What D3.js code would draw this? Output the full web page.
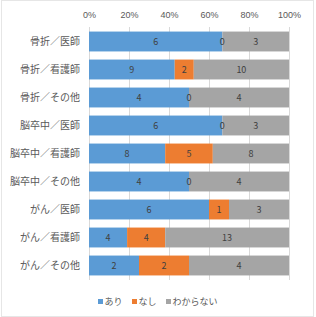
<!DOCTYPE html>
<html><head><meta charset="utf-8">
<script src="https://cdn.jsdelivr.net/npm/d3@7/dist/d3.min.js"></script>
<style>body{margin:0;background:#fff;}svg{display:block;font-family:"Noto Sans CJK JP","Noto Sans",sans-serif;}</style>
</head><body>
<script>
const categories = ["骨折／医師","骨折／看護師","骨折／その他","脳卒中／医師","脳卒中／看護師","脳卒中／その他","がん／医師","がん／看護師","がん／その他"];
const seriesNames = ["あり","なし","わからない"];
const ari = [6,9,4,6,8,4,6,4,2];
const nashi = [0,2,0,0,5,0,1,4,2];
const wakaranai = [3,10,4,3,8,4,3,13,4];
const tickValues = [0,0.2,0.4,0.6,0.8,1.0];
const colors = ["#5B9BD5","#ED7D31","#A5A5A5"];

const W=316,H=317;
const svg=d3.select("body").append("svg").attr("width",W).attr("height",H);
svg.append("rect").attr("x",1.5).attr("y",0.5).attr("width",312).attr("height",316).attr("fill","#fff").attr("stroke","#e6e6e6");

const x=d3.scaleLinear().domain([0,1]).range([89,289]);
const y=d3.scaleBand().domain(categories).range([27.5,279.5]).paddingInner(0.29).paddingOuter(0.145);

// grid
svg.append("g").selectAll("line").data(tickValues).join("line")
 .attr("x1",d=>x(d)).attr("x2",d=>x(d)).attr("y1",27).attr("y2",280)
 .attr("stroke","#d9d9d9").attr("stroke-width",1).attr("shape-rendering","crispEdges");

// top axis
const ax=svg.append("g").attr("transform","translate(0,18)")
 .call(d3.axisTop(x).tickValues(tickValues).tickFormat(d3.format(".0%")).tickSize(0).tickPadding(0));
ax.select(".domain").remove();
ax.selectAll("text").attr("fill","#595959").attr("font-size","9px");

const data=categories.map((c,i)=>({c,vals:[ari[i],nashi[i],wakaranai[i]]}));
const stackData=data.map(d=>{const t=d3.sum(d.vals);let acc=0;return d.vals.map((v,k)=>{const s={c:d.c,k,v,x0:acc/t,x1:(acc+v)/t};acc+=v;return s;});}).flat();

svg.append("g").selectAll("rect").data(stackData).join("rect")
 .attr("x",d=>x(d.x0)).attr("width",d=>x(d.x1)-x(d.x0))
 .attr("y",d=>y(d.c)).attr("height",y.bandwidth()).attr("fill",d=>colors[d.k]);

svg.append("g").selectAll("text").data(stackData).join("text")
 .attr("x",d=>(x(d.x0)+x(d.x1))/2).attr("y",d=>y(d.c)+y.bandwidth()/2)
 .attr("dy","0.35em").attr("text-anchor","middle").attr("font-size","9px").attr("fill","#404040")
 .text(d=>d.v);

// category labels
svg.append("g").selectAll("text").data(categories).join("text")
 .attr("x",80).attr("y",d=>y(d)+y.bandwidth()/2).attr("dy","0.35em")
 .attr("text-anchor","end").attr("font-size","10px").attr("fill","#595959").text(d=>d);

// legend
const lg=svg.append("g");
const lx=[98,132,166];
seriesNames.forEach((n,i)=>{
 lg.append("rect").attr("x",lx[i]).attr("y",299).attr("width",5).attr("height",5).attr("fill",colors[i]);
 lg.append("text").attr("x",lx[i]+6.5).attr("y",302).attr("dy","0.35em").attr("font-size","9px").attr("fill","#595959").text(n);
});
</script>
</body></html>
